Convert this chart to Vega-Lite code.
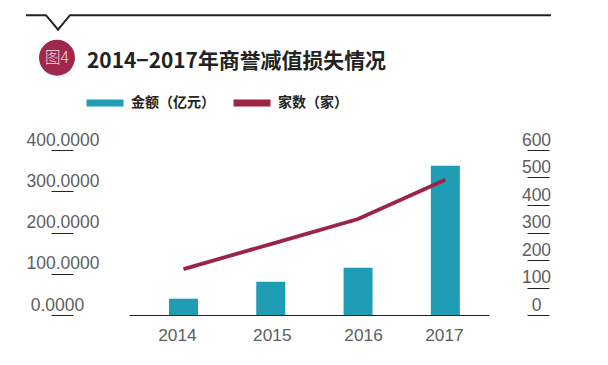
{
"$schema":"https://vega.github.io/schema/vega-lite/v6.json",
"width":360,"height":165,
"autosize":{"type":"none"},
"padding":{"left":129,"top":150,"right":119,"bottom":50},
"background":"white",
"title":{"text":"2014−2017年商誉减值损失情况","anchor":"start","frame":"group","dx":-42,"dy":131,"offset":70,"font":"Noto Sans CJK SC","fontSize":20.9,"fontWeight":"bold","color":"#222222"},
"config":{"view":{"stroke":null}},
"datasets":{"header":[{"year":2012.196,"amount":726.8,"step":1},{"year":2012.425,"amount":726.8,"step":2},{"year":2012.563,"amount":691.6,"step":3},{"year":2012.7,"amount":726.8,"step":4},{"year":2018.21,"amount":726.8,"step":5}],
"badge":[{"year":2012.551,"amount":623.8,"label":"图4"}]},
"data":{"values":[
{"year":2014,"series":"金额（亿元）","value":39.5},
{"year":2015,"series":"金额（亿元）","value":80.7},
{"year":2016,"series":"金额（亿元）","value":114.7},
{"year":2017,"series":"金额（亿元）","value":362},
{"year":2014,"series":"家数（家）","value":167},
{"year":2015,"series":"家数（家）","value":258},
{"year":2016,"series":"家数（家）","value":349},
{"year":2017,"series":"家数（家）","value":492}
]},
"resolve":{"scale":{"y":"independent"},"axis":{"y":"independent"}},
"layer":[
{"transform":[{"filter":"datum.series==='金额（亿元）'"}],
"mark":{"type":"bar","size":29},
"encoding":{
"x":{"field":"year","type":"quantitative","scale":{"domain":[2013.376,2017.5],"nice":false,"zero":false,"padding":0},
"axis":{"values":[2014,2015,2016,2017],"format":"d","title":null,"grid":false,"ticks":false,"domainColor":"#222222","domainWidth":1,"labelFont":"Liberation Sans","labelFontSize":17.3,"labelColor":"#5e5e5e","labelPadding":11,"labelFlush":false,"labelOverlap":false,"labelOffset":{"expr":"datum.value==2014?-6.5:datum.value==2015?1:datum.value==2016?5:-1.4"}}},
"y":{"field":"value","type":"quantitative","scale":{"domain":[0,400],"nice":false},
"axis":{"values":[0,100,200,300,400],"format":".4f","title":null,"grid":false,"domain":false,"offset":56,"tickSize":22,"tickColor":"#222222","tickWidth":1,"labelFont":"Liberation Sans","labelFontSize":17.5,"labelColor":"#5e5e5e","labelAlign":"center","labelBaseline":"middle","labelOffset":-10,"labelPadding":{"expr":"datum.value==0?-6:-11.5"}}},
"color":{"field":"series","type":"nominal","scale":{"domain":["金额（亿元）","家数（家）"],"range":["#1f9db5","#9e2447"]},
"legend":{"orient":"none","legendX":-46,"legendY":-69,"direction":"horizontal","title":null,"symbolType":"stroke","symbolSize":1369,"symbolStrokeWidth":7,"labelFont":"Noto Sans CJK SC","labelFontSize":14,"labelFontWeight":"bold","labelColor":"#222222","labelOffset":4,"columnPadding":4,"padding":0}}
}},
{"transform":[{"filter":"datum.series==='家数（家）'"}],
"mark":{"type":"line","strokeWidth":3.8},
"encoding":{
"x":{"field":"year","type":"quantitative"},
"y":{"field":"value","type":"quantitative","scale":{"domain":[0,600],"nice":false},
"axis":{"orient":"right","values":[0,100,200,300,400,500,600],"format":"d","title":null,"grid":false,"domain":false,"offset":38,"tickSize":22,"tickColor":"#222222","tickWidth":1,"labelFont":"Liberation Sans","labelFontSize":17.5,"labelColor":"#5e5e5e","labelAlign":"center","labelBaseline":"middle","labelOffset":-10,"labelPadding":-13}},
"color":{"field":"series","type":"nominal"}
}},
{"data":{"name":"header"},
"mark":{"type":"line","color":"#222222","strokeWidth":2,"clip":false},
"encoding":{
"x":{"field":"year","type":"quantitative"},
"y":{"field":"amount","type":"quantitative","scale":{"domain":[0,400],"nice":false},"axis":null},
"order":{"field":"step"}
}},
{"data":{"name":"badge"},
"mark":{"type":"point","filled":true,"size":1296,"color":"#a0284a","opacity":1,"clip":false},
"encoding":{
"x":{"field":"year","type":"quantitative"},
"y":{"field":"amount","type":"quantitative","scale":{"domain":[0,400],"nice":false},"axis":null}
}},
{"data":{"name":"badge"},
"mark":{"type":"text","font":"Noto Sans CJK SC","fontSize":15.5,"fontWeight":300,"color":"#f6dfe3","clip":false},
"encoding":{
"x":{"field":"year","type":"quantitative"},
"y":{"field":"amount","type":"quantitative","scale":{"domain":[0,400],"nice":false},"axis":null},
"text":{"field":"label"}
}}
]
}
